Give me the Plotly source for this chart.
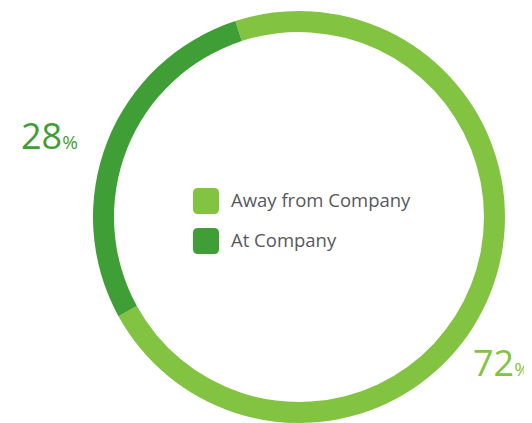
import plotly.graph_objects as go

# data
labels = ["Away from Company", "At Company"]
values = [72, 28]
colors = ["#82c341", "#3f9e35"]
pct_text = ["72", "28"]

# the page body keeps its default 8px margin, so the figure is 8px smaller
OFF = 8
W, H = 532 - OFF, 423 - OFF


def px(x):
    return (x - OFF) / W


def py(y):
    return 1 - (y - OFF) / H


fig = go.Figure()
fig.add_trace(go.Pie(
    labels=labels, values=values,
    marker=dict(colors=colors, line=dict(width=0)),
    hole=0.898, sort=False, direction="counterclockwise", rotation=-18,
    textinfo="none", hoverinfo="label+percent", showlegend=False,
    domain=dict(x=[px(93), px(505)], y=[0, 412 / H]),
))

# percentage labels
fig.add_annotation(x=px(19), y=py(136), xref="paper", yref="paper",
                   xanchor="left", yanchor="middle", showarrow=False,
                   text=pct_text[1] + "<span style='font-size:19px'>%</span>",
                   font=dict(family="Open Sans", size=36, color=colors[1]))
fig.add_annotation(x=px(471), y=py(362), xref="paper", yref="paper",
                   xanchor="left", yanchor="middle", showarrow=False,
                   text=pct_text[0] + "<span style='font-size:19px'>%</span>",
                   font=dict(family="Open Sans", size=36, color=colors[0]))


# custom legend with rounded swatches
def rounded(x0, y0, s, r):
    def p(x, y):
        return f"{px(x):.5f},{py(y):.5f}"
    return (f"M {p(x0 + r, y0)} L {p(x0 + s - r, y0)} Q {p(x0 + s, y0)} {p(x0 + s, y0 + r)} "
            f"L {p(x0 + s, y0 + s - r)} Q {p(x0 + s, y0 + s)} {p(x0 + s - r, y0 + s)} "
            f"L {p(x0 + r, y0 + s)} Q {p(x0, y0 + s)} {p(x0, y0 + s - r)} "
            f"L {p(x0, y0 + r)} Q {p(x0, y0)} {p(x0 + r, y0)} Z")


for i, lab in enumerate(labels):
    top = 188 + i * 40
    fig.add_shape(type="path", xref="paper", yref="paper",
                  path=rounded(193, top, 26, 5),
                  fillcolor=colors[i], line=dict(width=0))
    fig.add_annotation(x=px(229), y=py(top + 11), xref="paper", yref="paper",
                       xanchor="left", yanchor="middle", showarrow=False, text=lab,
                       font=dict(family="Open Sans", size=18.5, color="#58595b"))

fig.update_layout(width=W, height=H, margin=dict(l=0, r=0, t=0, b=0),
                  paper_bgcolor="white", plot_bgcolor="white")

fig.write_html("out.html")
